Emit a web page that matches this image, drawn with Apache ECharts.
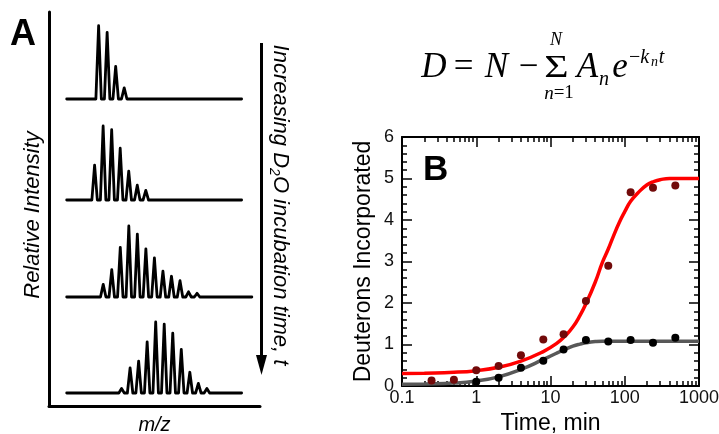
<!DOCTYPE html>
<html>
<head>
<meta charset="utf-8">
<script src="https://cdn.jsdelivr.net/npm/echarts@6/dist/echarts.min.js"></script>
<style>
html, body { margin: 0; padding: 0; background: #fff; }
#main { width: 719px; height: 434px; }
</style>
</head>
<body>
<div id="main"></div>
<script>
// ---- panel A: isotope envelopes (peak heights, tallest ~100) ----
var spec1 = [99, 90, 44, 15];
var spec2 = [47, 100, 95, 70, 39, 20, 13];
var spec3 = [17, 37, 67, 96, 85, 65, 53, 35, 28, 22, 7, 5];
var spec4 = [6, 34, 43, 69, 96, 93, 81, 59, 28, 13, 6];
var specStart = [3.74, 3.27, 4.28, 6.43];   // m/z of first peak (arbitrary units)
var specEnd = [20.5, 20.5, 21.7, 20.5];     // where each baseline stops

// ---- panel B: deuterium uptake ----
var redTimes = [0.25, 0.5, 1, 2, 4, 8, 15, 30, 60, 120, 240, 480];
var redPts = [0.13, 0.15, 0.38, 0.48, 0.74, 1.12, 1.25, 2.05, 2.9, 4.67, 4.78, 4.83];
var blackTimes = [1, 2, 4, 8, 15, 30, 60, 120, 240, 480];
var blackPts = [0.1, 0.2, 0.44, 0.61, 0.88, 1.11, 1.07, 1.11, 1.04, 1.16];

// fitted curves
var fitTimes = [0.1, 0.2, 0.5, 1, 2, 4, 8, 12, 16, 20, 25, 30, 40, 50, 60, 70, 85, 100, 120, 150, 200, 250, 300, 400, 600, 1000];
var redFit  = [0.30, 0.31, 0.33, 0.37, 0.45, 0.60, 0.83, 1.02, 1.22, 1.42, 1.70, 1.98, 2.50, 2.98, 3.30, 3.60, 3.95, 4.20, 4.45, 4.65, 4.85, 4.93, 4.97, 5.0, 5.0, 5.0];
var grayFit = [0.04, 0.05, 0.07, 0.12, 0.22, 0.40, 0.64, 0.79, 0.89, 0.96, 1.01, 1.04, 1.07, 1.08, 1.08, 1.08, 1.08, 1.08, 1.08, 1.08, 1.08, 1.08, 1.08, 1.08, 1.08, 1.08];

// tick positions (drawn on all four sides of the box)
var xMajorTicks = [0.1, 1, 10, 100, 1000];
var xMinorTicks = [0.2, 0.3, 0.4, 0.5, 0.6, 0.7, 0.8, 0.9,
    2, 3, 4, 5, 6, 7, 8, 9,
    20, 30, 40, 50, 60, 70, 80, 90,
    200, 300, 400, 500, 600, 700, 800, 900];
var yMajorTicks = [0, 1, 2, 3, 4, 5, 6];
var yMinorTicks = [0.2, 0.4, 0.6, 0.8, 1.2, 1.4, 1.6, 1.8, 2.2, 2.4, 2.6, 2.8,
    3.2, 3.4, 3.6, 3.8, 4.2, 4.4, 4.6, 4.8, 5.2, 5.4, 5.6, 5.8];

var chart = echarts.init(document.getElementById('main'));

// each peak as a narrow spike on a flat baseline
function peakLine(heights, start, end) {
    var pts = [[0, 0]];
    heights.forEach(function (h, i) {
        var p = start + i;
        pts.push([p - 0.32, 0], [p, h], [p + 0.32, 0]);
    });
    pts.push([end, 0]);
    return pts;
}
function pairs(xs, ys) {
    return xs.map(function (x, i) { return [x, ys[i]]; });
}

var specs = [spec1, spec2, spec3, spec4];
var baseY = [99, 200, 297, 393];
function hidden() { return { show: false }; }
function lineB() { return { show: true, onZero: false, lineStyle: { color: '#000', width: 2 } }; }

// tick-only axis; it sits on the zero of another axis in the grid (a box edge)
function tickAxis(pos, min, max, values, len) {
    return {
        gridIndex: 5, type: 'value', min: min, max: max, position: pos,
        axisLine: { show: false }, axisLabel: hidden(), splitLine: hidden(),
        axisTick: { show: true, inside: true, length: len, lineStyle: { color: '#000', width: 1.5 }, customValues: values }
    };
}
// invisible axis whose zero is at the far edge
function edgeAxis(min, max) {
    return { gridIndex: 5, type: 'value', min: min, max: max, show: false, axisLine: { show: false, onZero: false } };
}

var grids = [{ left: 49, top: 12, width: 211, height: 394, outerBoundsMode: 'none' }];
var xAxes = [{
    gridIndex: 0, type: 'value', min: 0, max: 1,
    axisLine: { show: true, onZero: false, lineStyle: { color: '#000', width: 3 } },
    axisTick: hidden(), axisLabel: hidden(), splitLine: hidden(),
    name: 'm/z', nameLocation: 'middle', nameGap: 9,
    nameTextStyle: { fontStyle: 'italic', fontSize: 20, color: '#000' }
}];
var yAxes = [{
    gridIndex: 0, type: 'value', min: 0, max: 1,
    axisLine: { show: true, onZero: false, lineStyle: { color: '#000', width: 3 } },
    axisTick: hidden(), axisLabel: hidden(), splitLine: hidden(),
    name: 'Relative Intensity', nameLocation: 'middle', nameGap: 5,
    nameTextStyle: { fontStyle: 'italic', fontSize: 22, color: '#000', padding: [0, 12, 0, 0] }
}];
var series = [];

specs.forEach(function (s, i) {
    grids.push({ left: 66.7, top: baseY[i] - 74, width: 186, height: 74, outerBoundsMode: 'none' });
    xAxes.push({ gridIndex: i + 1, type: 'value', min: 0, max: 21.8, show: false });
    yAxes.push({ gridIndex: i + 1, type: 'value', min: 0, max: 100, show: false });
    series.push({
        type: 'line', xAxisIndex: i + 1, yAxisIndex: i + 1,
        data: peakLine(s, specStart[i], specEnd[i]),
        showSymbol: false, clip: false, silent: true,
        lineStyle: { color: '#000', width: 2.8, join: 'round', cap: 'round' }
    });
});

// panel B (grid 5)
grids.push({ left: 402, top: 137, width: 297, height: 249, outerBoundsMode: 'none' });

// x tick axes count decades above 0.1 (0..4)
var logMajor = xMajorTicks.map(function (t) { return Math.log10(t) + 1; });
var logMinor = xMinorTicks.map(function (t) { return Math.log10(t) + 1; });
xAxes.push(tickAxis('bottom', 0, 4, logMajor, 10));  // 5
xAxes.push(tickAxis('bottom', 0, 4, logMinor, 5));   // 6
xAxes.push(edgeAxis(-4, 0));                          // 7  zero at right edge
xAxes.push(edgeAxis(-4, 0));                          // 8
xAxes.push(tickAxis('top', 0, 4, logMajor, 10));     // 9
xAxes.push(tickAxis('top', 0, 4, logMinor, 5));      // 10
xAxes.push({                                          // 11 main time axis
    gridIndex: 5, type: 'log', logBase: 10, min: 0.1, max: 1000, position: 'bottom',
    axisLine: lineB(), axisTick: hidden(),
    axisLabel: { fontSize: 18, color: '#111', margin: 3, formatter: function (v) { return String(v); } },
    splitLine: hidden(),
    name: 'Time, min', nameLocation: 'middle', nameGap: 23,
    nameTextStyle: { fontSize: 23, color: '#000' }
});
xAxes.push({                                          // 12 top frame line
    gridIndex: 5, type: 'log', logBase: 10, min: 0.1, max: 1000, position: 'top',
    axisLine: lineB(), axisTick: hidden(), axisLabel: hidden(), splitLine: hidden()
});

yAxes.push({                                          // 5 main value axis
    gridIndex: 5, type: 'value', min: 0, max: 6, interval: 1, position: 'left',
    axisLine: lineB(), axisTick: hidden(),
    axisLabel: { fontSize: 18, color: '#111', margin: 8 },
    splitLine: hidden(),
    name: 'Deuterons Incorporated', nameLocation: 'middle', nameGap: 27,
    nameTextStyle: { fontSize: 23, color: '#000' }
});
yAxes.push({                                          // 6 right frame line
    gridIndex: 5, type: 'value', min: 0, max: 6, position: 'right',
    axisLine: lineB(), axisLabel: hidden(), axisTick: hidden(), splitLine: hidden()
});
yAxes.push(edgeAxis(-6, 0));                          // 7  zero at top edge
yAxes.push(edgeAxis(-6, 0));                          // 8
yAxes.push(tickAxis('left', 0, 6, yMajorTicks, 10)); // 9
yAxes.push(tickAxis('left', 0, 6, yMinorTicks, 5));  // 10
yAxes.push(tickAxis('right', 0, 6, yMajorTicks, 10));// 11
yAxes.push(tickAxis('right', 0, 6, yMinorTicks, 5)); // 12

series.push({
    name: 'fit 1', type: 'line', xAxisIndex: 11, yAxisIndex: 5,
    data: pairs(fitTimes, grayFit), smooth: true, showSymbol: false,
    lineStyle: { color: '#585858', width: 3.5 }, z: 2
});
series.push({
    name: 'fit 2', type: 'line', xAxisIndex: 11, yAxisIndex: 5,
    data: pairs(fitTimes, redFit), smooth: true, showSymbol: false,
    lineStyle: { color: '#ff0000', width: 3.5 }, z: 2
});
series.push({
    name: 'black', type: 'scatter', xAxisIndex: 11, yAxisIndex: 5,
    data: pairs(blackTimes, blackPts), symbolSize: 8,
    itemStyle: { color: '#000', opacity: 1 }, z: 3
});
series.push({
    name: 'red', type: 'scatter', xAxisIndex: 11, yAxisIndex: 5,
    data: pairs(redTimes, redPts), symbolSize: 8,
    itemStyle: { color: '#720a0a', opacity: 1 }, z: 3
});

// equation and panel letters
var serif = 'Liberation Serif, Times New Roman, serif';
function eqText(t, x, y, size, italic) {
    return {
        type: 'text', x: x, y: y, silent: true,
        style: {
            text: t, fontFamily: serif, fontSize: size,
            fontStyle: italic ? 'italic' : 'normal', fill: '#000',
            align: 'center', verticalAlign: 'middle'
        }
    };
}
function eqRich(t, x, y, size) {
    var el = eqText(t, x, y, size, false);
    el.style.rich = {
        i: { fontFamily: serif, fontStyle: 'italic', fontSize: size },
        u: { fontFamily: serif, fontSize: size }
    };
    return el;
}
var sigma = eqText('\u03A3', 556.5, 69, 31, false);
sigma.scaleX = 1.35;

var graphics = [
    {
        type: 'text', x: 10, y: 35, silent: true,
        style: { text: 'A', fontFamily: 'Liberation Sans, Arial, sans-serif', fontSize: 36, fontWeight: 'bold', fill: '#000', align: 'left', verticalAlign: 'middle' }
    },
    {
        type: 'text', x: 423, y: 170, silent: true,
        style: { text: 'B', fontFamily: 'Liberation Sans, Arial, sans-serif', fontSize: 35, fontWeight: 'bold', fill: '#000', align: 'left', verticalAlign: 'middle' }
    },
    // time arrow
    { type: 'line', silent: true, shape: { x1: 261.5, y1: 43, x2: 261.5, y2: 358 }, style: { stroke: '#000', lineWidth: 3 } },
    { type: 'polygon', silent: true, shape: { points: [[256, 355], [267, 355], [261.5, 375]] }, style: { fill: '#000' } },
    {
        type: 'text', x: 280, y: 205, rotation: -Math.PI / 2, silent: true,
        style: {
            text: '{a|Increasing D}{b|2}{a|O incubation time, t}',
            align: 'center', verticalAlign: 'middle', fill: '#000',
            rich: {
                a: { fontFamily: 'Liberation Sans, Arial, sans-serif', fontStyle: 'italic', fontSize: 22, lineHeight: 26 },
                b: { fontFamily: 'Liberation Sans, Arial, sans-serif', fontStyle: 'italic', fontSize: 14, lineHeight: 14, verticalAlign: 'bottom' }
            }
        }
    },
    eqText('D', 434, 68, 35, true),
    eqText('=', 463.5, 68, 35, false),
    eqText('N', 496.5, 68, 35, true),
    eqText('\u2212', 528.5, 68, 35, false),
    sigma,
    eqText('N', 556, 40.5, 18, true),
    eqRich('{i|n}{u|=1}', 559, 93.5, 19),
    eqText('A', 587.5, 68, 35, true),
    eqText('n', 604, 80, 20, true),
    eqText('e', 620, 68, 35, true),
    eqRich('{u|\u2212}{i|k}', 639, 58, 20),
    eqText('n', 654.5, 62.5, 14, true),
    eqText('t', 661.5, 58, 20, true)
];

var option = {
    animation: false,
    backgroundColor: '#fff',
    textStyle: { fontFamily: 'Liberation Sans, Arial, sans-serif' },
    grid: grids,
    xAxis: xAxes,
    yAxis: yAxes,
    series: series,
    graphic: { elements: graphics }
};
if (option && typeof option === 'object') {
    chart.setOption(option);
}
</script>
</body>
</html>
